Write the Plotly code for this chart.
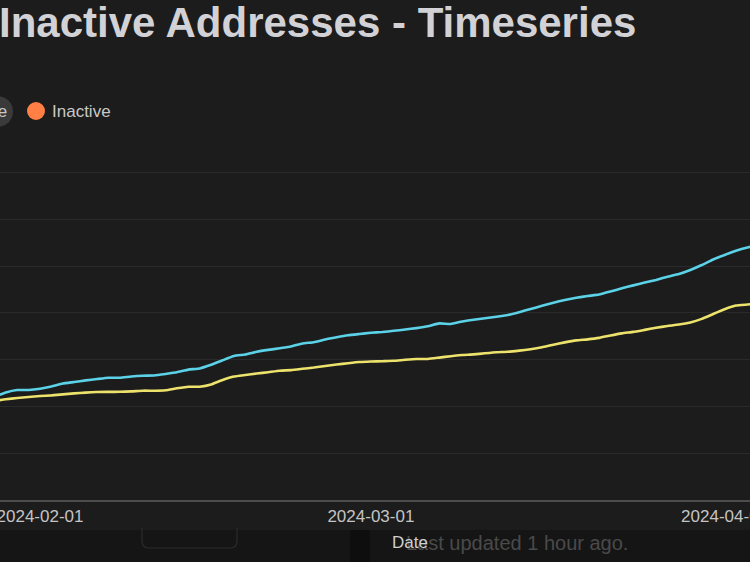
import pandas as pd
import plotly.graph_objects as go

# ---- data (values in thousands) ----
dates = pd.date_range("2024-01-28", "2024-04-04", freq="D")

active = [220.1, 229.7, 235.0, 235.0, 237.8, 242.5, 248.9, 252.1, 255.6, 258.5,
          261.3, 261.3, 263.9, 265.6, 266.0, 269.2, 272.9, 278.6, 281.2, 288.9,
          298.5, 307.7, 310.9, 316.7, 320.7, 324.2, 328.0, 334.6, 337.2, 343.0,
          347.7, 351.9, 354.7, 357.3, 359.0, 361.5, 364.3, 367.3, 371.2, 377.4,
          376.1, 381.6, 385.3, 388.3, 391.7, 395.3, 401.3, 408.1, 415.0, 421.6,
          427.4, 432.1, 435.9, 438.9, 445.5, 452.4, 458.6, 464.5, 470.3, 477.1,
          482.9, 491.5, 502.1, 513.9, 523.7, 532.5, 539.5, 544.9]

inactive = [211.5, 215.2, 218.0, 220.1, 222.2, 223.5, 225.6, 227.8, 229.5, 230.8,
            231.0, 231.2, 232.1, 233.6, 233.6, 234.6, 238.7, 242.1, 242.1, 246.8,
            256.4, 263.7, 267.1, 270.3, 273.1, 276.3, 277.6, 280.3, 283.1, 286.5,
            289.5, 292.3, 294.9, 295.9, 296.6, 297.4, 299.6, 301.3, 301.3, 304.3,
            307.3, 309.8, 311.1, 313.5, 315.8, 316.7, 319.2, 322.2, 326.3, 331.8,
            336.8, 341.0, 343.2, 346.4, 351.5, 356.0, 359.2, 363.5, 368.0, 371.8,
            374.8, 379.5, 387.0, 397.4, 407.5, 415.4, 417.7, 419.9]

series_names = ["Active", "Inactive"]
line_colors = ["#5bd2e8", "#ece26c"]
legend_dot_color = "#ff7f45"

W, H = 750, 562
T, B = 149, 62
PH = H - T - B


def px(x):
    return x / W


def py(y):
    return (H - B - y) / PH


BG = "#1c1c1c"

fig = go.Figure()
for name, vals, col in zip(series_names, [active, inactive], line_colors):
    fig.add_trace(go.Scatter(x=dates, y=vals, mode="lines", name=name,
                             line=dict(color=col, width=2.6, shape="spline", smoothing=0.4),
                             showlegend=False))

shapes = [
    # dark strip of the page below the chart
    dict(type="rect", xref="paper", yref="paper", x0=0, x1=1, y0=py(562), y1=py(530),
         fillcolor="#151515", line=dict(width=0), layer="below"),
    dict(type="rect", xref="paper", yref="paper", x0=px(350), x1=px(370), y0=py(562), y1=py(530),
         fillcolor="#0e0e0e", line=dict(width=0), layer="below"),
    dict(type="path", xref="paper", yref="paper",
         path=f"M {px(142)},{py(528)} L {px(142)},{py(541)} Q {px(142)},{py(548)} {px(149)},{py(548)} "
              f"L {px(230)},{py(548)} Q {px(237)},{py(548)} {px(237)},{py(541)} L {px(237)},{py(528)}",
         line=dict(color="#2c2c2c", width=1.2)),
    # legend markers
    dict(type="circle", xref="paper", yref="paper", x0=px(-18), x1=px(13), y0=py(127), y1=py(96),
         fillcolor="#3a3a3a", line=dict(width=0)),
    dict(type="circle", xref="paper", yref="paper", x0=px(27), x1=px(45), y0=py(120), y1=py(102),
         fillcolor=legend_dot_color, line=dict(width=0)),
]

annotations = [
    dict(text="<b>Inactive Addresses - Timeseries</b>", xref="paper", yref="paper",
         x=px(-3), y=py(23), xanchor="left", yanchor="middle", showarrow=False,
         font=dict(size=42, color="#d2d2d6", family="Liberation Sans, Arial")),
    dict(text="Active", xref="paper", yref="paper", x=px(9), y=py(111), xanchor="right",
         yanchor="middle", showarrow=False, font=dict(size=17, color="#c8c8c8")),
    dict(text="Inactive", xref="paper", yref="paper", x=px(50), y=py(111), xanchor="left",
         yanchor="middle", showarrow=False, font=dict(size=17, color="#c8c8c8")),
    dict(text="Last updated 1 hour ago.", xref="paper", yref="paper", x=px(404), y=py(543),
         xanchor="left", yanchor="middle", showarrow=False, font=dict(size=20, color="#4a4a4a")),
    dict(text="Date", xref="paper", yref="paper", x=px(410), y=py(542), xanchor="center",
         yanchor="middle", showarrow=False, font=dict(size=17, color="#d0d0d0")),
]

fig.update_layout(
    width=W, height=H,
    margin=dict(l=0, r=0, t=T, b=B, autoexpand=False),
    paper_bgcolor=BG, plot_bgcolor=BG,
    font=dict(family="Liberation Sans, Arial", color="#c8c8c8"),
    shapes=shapes, annotations=annotations,
    xaxis=dict(type="date", range=["2024-01-28 11:50", "2024-04-03 05:30"],
               dtick="M1", tick0="2024-02-01", tickformat="%Y-%m-%d",
               ticklabeloverflow="allow", automargin=False,
               showgrid=False, showline=True, linecolor="#4c4c4c", linewidth=1.5,
               ticks="", tickfont=dict(size=17, color="#c4c4c4"), zeroline=False),
    yaxis=dict(range=[0, 750], dtick=100, showticklabels=False, showgrid=True,
               gridcolor="#2a2a2a", gridwidth=1, zeroline=False, automargin=False),
)

fig.write_html("out.html")
